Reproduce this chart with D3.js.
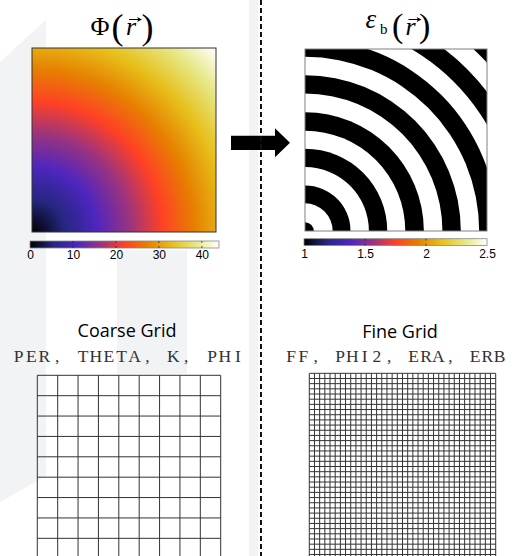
<!DOCTYPE html>
<html>
<head>
<meta charset="utf-8">
<script src="https://cdn.jsdelivr.net/npm/d3@7"></script>
<style>
  body { margin: 0; background: #fff; }
  svg { display: block; }
</style>
</head>
<body>
<svg id="fig"></svg>
<script>
const W = 519, H = 556

// colour map: black -> blue -> purple -> red -> orange -> yellow -> white
const cmapColors = ['#000000', '#262680', '#4d26bf', '#993380', '#ff4026', '#e68000', '#e6bf1a', '#e6e680', '#ffffff']

const phiMax   = 44
const phiTicks = [0, 10, 20, 30, 40]
const epsRange = [1, 2.5]
const epsTicks = [1, 1.5, 2, 2.5]
const epsLevels = [1, 2.5]   // the two values of eps_b (black / white)
// ring edges of eps_b, as a fraction of the panel side
const ringEdges = [0.048, 0.152, 0.250, 0.351, 0.452, 0.551, 0.653, 0.755, 0.856, 0.957, 1.058, 1.158, 1.259, 1.362]

const coarseCells = 9
const fineCells   = 36
const coarseTitle = 'Coarse Grid'
const fineTitle   = 'Fine Grid'
const coarseVars  = 'PER, THETA, K, PHI'
const fineVars    = 'FF, PHI2, ERA, ERB'

const svg = d3.select('#fig').attr('width', W).attr('height', H)
const defs = svg.append('defs')

// faint slide watermark
const wm = svg.append('g').attr('fill', '#f2f3f5')
wm.append('polygon').attr('points', '0,62 46,20 46,476 0,502')
wm.append('rect').attr('x', 117).attr('y', 250).attr('width', 70).attr('height', 124)
wm.append('rect').attr('x', 249).attr('y', 0).attr('width', 9).attr('height', H)

function addStops(sel) {
  sel.selectAll('stop')
    .data(cmapColors)
    .join('stop')
      .attr('offset', (d, i) => i / (cmapColors.length - 1))
      .attr('stop-color', d => d)
}

// ---------- Phi(r) panel ----------
const phiP = { x: 32, y: 48, size: 184 }
const phiR = d3.scaleLinear().domain([0, phiMax]).range([0, phiP.size * Math.SQRT2])

const rg = defs.append('radialGradient')
  .attr('id', 'phiGrad')
  .attr('gradientUnits', 'userSpaceOnUse')
  .attr('cx', phiP.x).attr('cy', phiP.y + phiP.size)
  .attr('fx', phiP.x).attr('fy', phiP.y + phiP.size)
  .attr('r', phiR(phiMax))
addStops(rg)

svg.append('rect')
  .attr('x', phiP.x).attr('y', phiP.y)
  .attr('width', phiP.size).attr('height', phiP.size)
  .attr('fill', 'url(#phiGrad)')
  .attr('stroke', '#333').attr('stroke-width', 1)

// ---------- eps_b(r) panel ----------
const epsP = { x: 305, y: 49, size: 182 }
const ringR = d3.scaleLinear().domain([0, 1]).range([0, epsP.size])
const epsColor = d3.scaleLinear()
  .domain(cmapColors.map((_, i) => epsRange[0] + (epsRange[1] - epsRange[0]) * i / (cmapColors.length - 1)))
  .range(cmapColors)

defs.append('clipPath').attr('id', 'epsClip')
  .append('rect')
    .attr('x', epsP.x).attr('y', epsP.y)
    .attr('width', epsP.size).attr('height', epsP.size)

const epsG = svg.append('g').attr('clip-path', 'url(#epsClip)')
epsG.append('rect')
  .attr('x', epsP.x).attr('y', epsP.y)
  .attr('width', epsP.size).attr('height', epsP.size)
  .attr('fill', epsColor(epsLevels[0]))
epsG.selectAll('circle')
  .data(ringEdges.map((r, i) => ({ r, i })).reverse())
  .join('circle')
    .attr('cx', epsP.x)
    .attr('cy', epsP.y + epsP.size)
    .attr('r', d => ringR(d.r))
    .attr('fill', d => epsColor(epsLevels[d.i % 2]))

svg.append('rect')
  .attr('x', epsP.x).attr('y', epsP.y)
  .attr('width', epsP.size).attr('height', epsP.size)
  .attr('fill', 'none')
  .attr('stroke', '#808080').attr('stroke-width', 1)

// ---------- colourbars ----------
function colorbar(id, box, domain, ticks, fmt) {
  addStops(defs.append('linearGradient').attr('id', id))

  const x = d3.scaleLinear().domain(domain).range([box.x, box.x + box.w])
  const g = svg.append('g')
  g.append('rect')
    .attr('x', box.x).attr('y', box.y)
    .attr('width', box.w).attr('height', box.h)
    .attr('fill', `url(#${id})`)
    .attr('stroke', '#888').attr('stroke-width', 0.8)

  // little inner tick marks, top and bottom
  const inner = ticks.filter(t => t > domain[0] && t < domain[1])
  ;[[box.y, box.y + 1.8], [box.y + box.h - 1.8, box.y + box.h]].forEach(([y1, y2]) => {
    g.append('g').selectAll('line')
      .data(inner)
      .join('line')
        .attr('x1', d => x(d)).attr('x2', d => x(d))
        .attr('y1', y1).attr('y2', y2)
        .attr('stroke', '#222').attr('stroke-width', 0.8)
  })

  const axis = d3.axisBottom(x).tickValues(ticks).tickSize(0).tickPadding(0).tickFormat(fmt)
  const ag = g.append('g')
    .attr('transform', `translate(0,${box.y + box.h})`)
    .call(axis)
  ag.select('.domain').remove()
  ag.selectAll('text')
    .attr('dy', null)
    .attr('y', box.labelY - box.y - box.h)
    .attr('fill', '#000')
    .attr('font-family', '"Liberation Sans", Arial, sans-serif')
    .attr('font-size', '12px')
}

colorbar('cbPhi', { x: 30, y: 241, w: 189, h: 7, labelY: 258.5 }, [0, phiMax], phiTicks, d3.format('d'))
colorbar('cbEps', { x: 304, y: 238.7, w: 183, h: 6.8, labelY: 257.5 }, epsRange, epsTicks, d => String(d))

// ---------- titles with vector r ----------
function vecArrow(x1, x2, y) {
  svg.append('line')
    .attr('x1', x1).attr('x2', x2 - 2).attr('y1', y).attr('y2', y)
    .attr('stroke', '#000').attr('stroke-width', 1)
  svg.append('path')
    .attr('d', `M${x2},${y} L${x2 - 5},${y - 2.6} L${x2 - 3.6},${y} L${x2 - 5},${y + 2.6} Z`)
    .attr('fill', '#000')
}

const serif = '"Liberation Serif", "Times New Roman", serif'
const t1 = svg.append('g').attr('font-family', serif).attr('fill', '#000')
t1.append('text').attr('x', 90.5).attr('y', 35).attr('font-size', 26).text('Φ')
t1.append('text').attr('x', 111.5).attr('y', 38.5).attr('font-size', 36).text('(')
t1.append('text').attr('x', 126).attr('y', 35).attr('font-size', 26).attr('font-style', 'italic').text('r')
t1.append('text').attr('x', 141.5).attr('y', 38.5).attr('font-size', 36).text(')')
vecArrow(129, 142, 19.5)

const t2 = svg.append('g').attr('font-family', serif).attr('fill', '#000')
t2.append('text').attr('x', 365.5).attr('y', 27.5).attr('font-size', 27).attr('font-style', 'italic').text('ε')
t2.append('text').attr('x', 380).attr('y', 33.5).attr('font-size', 15).text('b')
t2.append('text').attr('x', 392).attr('y', 37).attr('font-size', 34).text('(')
t2.append('text').attr('x', 405.5).attr('y', 35).attr('font-size', 26).attr('font-style', 'italic').text('r')
t2.append('text').attr('x', 419).attr('y', 37).attr('font-size', 34).text(')')
vecArrow(408.5, 421.5, 19.5)

// ---------- arrow and divider ----------
svg.append('path')
  .attr('d', 'M231,135.7 L275,135.7 L275,128.3 L290,142.8 L275,157.3 L275,150 L231,150 Z')
  .attr('fill', '#000')

svg.append('line')
  .attr('x1', 261).attr('x2', 261).attr('y1', 0).attr('y2', H)
  .attr('stroke', '#111').attr('stroke-width', 2)
  .attr('stroke-dasharray', '5,3')

// ---------- grid titles ----------
const sans = '"Open Sans", Calibri, sans-serif'
svg.append('text').attr('x', 127).attr('y', 336.7).attr('text-anchor', 'middle')
  .attr('font-family', sans).attr('font-size', 18).text(coarseTitle)
svg.append('text').attr('x', 400).attr('y', 337.7).attr('text-anchor', 'middle')
  .attr('font-family', sans).attr('font-size', 18).text(fineTitle)

// typewriter-style lines: fixed advance per character (Courier look)
function monoText(str, cx, y, step) {
  const chars = Array.from(str)
  const x0 = cx - step * (chars.length - 1) / 2
  svg.append('text')
    .attr('x', chars.map((c, i) => (x0 + i * step).toFixed(1)).join(' '))
    .attr('y', y)
    .attr('text-anchor', 'middle')
    .attr('font-family', serif)
    .attr('font-size', 17.5)
    .attr('fill', '#333')
    .text(str)
}
monoText(coarseVars, 128.2, 361.7, 12.9)
monoText(fineVars, 395.3, 361.7, 12.26)

// ---------- grids ----------
function grid(n, box, color, width) {
  const s = d3.scaleLinear().domain([0, n]).range([0, box.size])
  const g = svg.append('g').attr('stroke', color).attr('stroke-width', width)
  const idx = d3.range(n + 1)
  g.append('g').selectAll('line')
    .data(idx)
    .join('line')
      .attr('x1', i => box.x + s(i)).attr('x2', i => box.x + s(i))
      .attr('y1', box.y).attr('y2', box.y + box.size)
  g.append('g').selectAll('line')
    .data(idx)
    .join('line')
      .attr('x1', box.x).attr('x2', box.x + box.size)
      .attr('y1', i => box.y + s(i)).attr('y2', i => box.y + s(i))
}

grid(coarseCells, { x: 37.3, y: 375.3, size: 183.4 }, '#333', 1)
grid(fineCells,   { x: 309.3, y: 373.3, size: 186.4 }, '#333', 1)
</script>
</body>
</html>
